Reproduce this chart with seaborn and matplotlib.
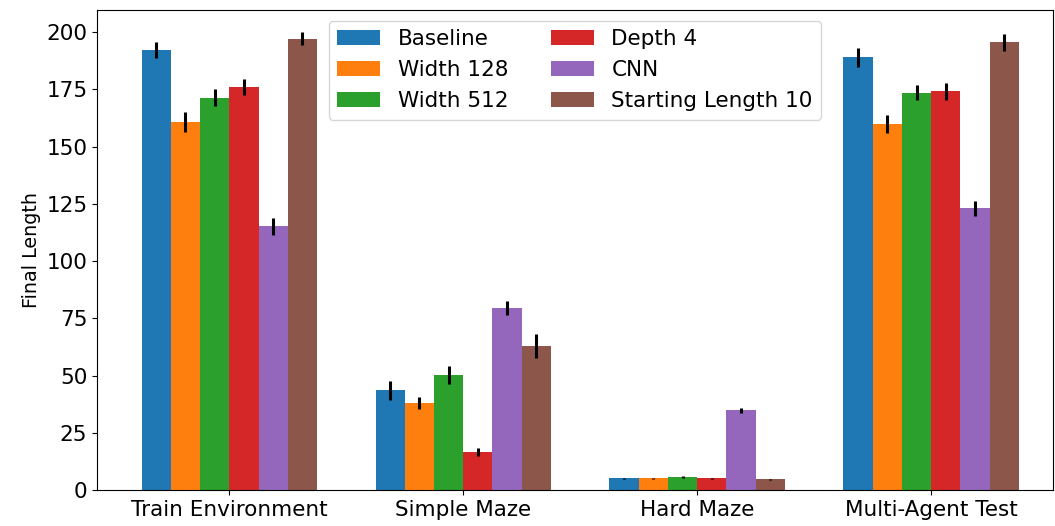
import pandas as pd
import seaborn as sns
import matplotlib.pyplot as plt

# values
envs = ['Train Environment', 'Simple Maze', 'Hard Maze', 'Multi-Agent Test']
models = ['Baseline', 'Width 128', 'Width 512', 'Depth 4', 'CNN', 'Starting Length 10']

baseline = [192.1, 43.7, 5.2, 189.0]
width_128 = [160.7, 38.0, 5.2, 159.8]
width_512 = [171.2, 50.2, 5.7, 173.4]
depth_4 = [176.0, 16.6, 5.2, 174.2]
cnn = [115.3, 79.5, 34.9, 123.1]
start_10 = [197.0, 62.9, 4.8, 195.6]

baseline_err = [3.5, 4.1, 0.3, 4.1]
width_128_err = [4.4, 2.6, 0.3, 4.1]
width_512_err = [3.7, 3.9, 0.3, 3.3]
depth_4_err = [3.5, 1.7, 0.3, 3.7]
cnn_err = [3.7, 3.0, 1.0, 3.3]
start_10_err = [2.8, 5.2, 0.3, 3.7]

means = [baseline, width_128, width_512, depth_4, cnn, start_10]
errs = [baseline_err, width_128_err, width_512_err, depth_4_err, cnn_err, start_10_err]

rows = []
for m, vals in zip(models, means):
    for e, v in zip(envs, vals):
        rows.append({'env': e, 'model': m, 'length': v})
df = pd.DataFrame(rows)

plt.rcParams['font.family'] = ['DejaVu Sans']
plt.rcParams['font.size'] = 15.5

fig, ax = plt.subplots(figsize=(10.55, 5.26), dpi=100)
sns.barplot(data=df, x='env', y='length', hue='model', order=envs, hue_order=models,
            palette=sns.color_palette('tab10', 6), saturation=1, width=0.75,
            errorbar=None, ax=ax, linewidth=0)

# error bars on each hue container
for cont, err in zip(ax.containers, errs):
    xs = [p.get_x() + p.get_width() / 2 for p in cont]
    ys = [p.get_height() for p in cont]
    ax.errorbar(xs, ys, yerr=err, fmt='none', ecolor='black', elinewidth=2.2, capsize=0)

ax.set_xlim(-0.565, 3.52)
ax.set_ylim(0, 209.6)
ax.set_yticks(range(0, 201, 25))
ax.set_xlabel('')
ax.set_ylabel('Final Length', fontsize=13.8)
ax.legend(loc='upper center', ncol=2, fontsize=15.5, handlelength=2, columnspacing=2)

fig.subplots_adjust(left=0.092, right=0.998, top=0.981, bottom=0.068)
plt.savefig('out.png')
